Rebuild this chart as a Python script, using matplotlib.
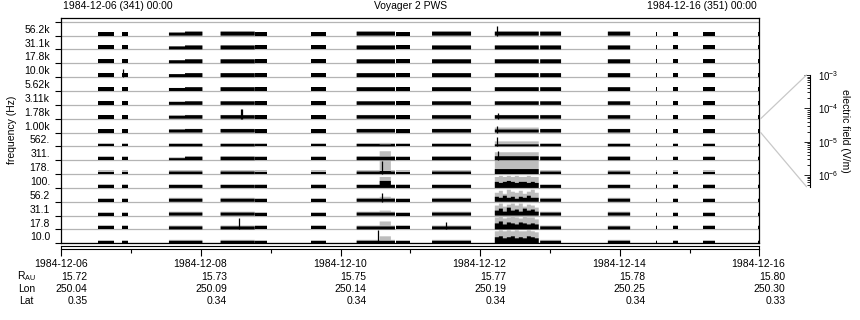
import numpy as np
import matplotlib.pyplot as plt
from matplotlib import transforms
from matplotlib.patches import ConnectionPatch
from matplotlib.ticker import LogLocator, LogFormatterSciNotation, NullFormatter

plt.rcParams['font.family'] = ['Liberation Sans', 'DejaVu Sans']
plt.rcParams['mathtext.default'] = 'regular'
plt.rcParams['font.size'] = 7.5

W, H = 860, 320

# frequency channels, top to bottom
channels = ['56.2k', '31.1k', '17.8k', '10.0k', '5.62k', '3.11k', '1.78k', '1.00k',
            '562.', '311.', '178.', '100.', '56.2', '31.1', '17.8', '10.0']
# usual levels in each channel (uV/m): black = average, gray = peak
base_black = [4.1, 4.1, 4.1, 4.1, 3.6, 3.1, 3.1, 3.1, 1.8, 3.1, 1.8, 2.4, 2.4, 2.4, 2.4, 1.8]
base_gray = [4.1, 4.1, 4.1, 4.1, 4.1, 3.6, 3.6, 3.6, 2.4, 4.1, 4.1, 3.1, 4.1, 4.1, 4.1, 3.1]

# data coverage, days after 1984-12-06 00:00
seg_t0 = [0.53, 0.86, 1.54, 2.28, 2.78, 3.57, 4.23, 4.79, 5.31, 6.21, 6.86, 7.83, 8.52, 8.77, 9.20, 9.985]
seg_t1 = [0.75, 0.96, 2.02, 2.77, 2.94, 3.79, 4.78, 4.99, 5.87, 6.84, 7.16, 8.15, 8.54, 8.83, 9.37, 10.0]

# stretches with other levels: (t0, t1, channel, black, gray) in uV/m
patches = [
    (1.54, 1.77, '56.2k', 2.4, 2.4), (1.54, 1.77, '31.1k', 2.4, 2.4),
    (1.54, 1.77, '17.8k', 2.4, 2.4), (1.54, 1.77, '10.0k', 2.4, 2.4),
    (1.54, 1.77, '5.62k', 2.4, 2.4), (1.54, 1.77, '3.11k', 2.4, 2.4),
    (1.54, 1.77, '1.78k', 2.4, 2.4), (1.54, 1.77, '1.00k', 2.4, 2.4),
    (1.54, 1.77, '311.', 1.4, 2.4),
    (4.56, 4.72, '562.', 1.4, 3.1), (4.56, 4.72, '311.', 3.1, 67),
    (4.56, 4.72, '178.', 2.4, 620), (4.56, 4.72, '100.', 22, 200),
    (4.56, 4.72, '56.2', 2.4, 7.2), (4.56, 4.72, '31.1', 2.4, 7.2),
    (4.56, 4.72, '17.8', 2.4, 38), (4.56, 4.72, '10.0', 1.8, 22),
    (6.21, 6.84, '1.00k', 2.4, 7.2), (6.21, 6.84, '562.', 1.4, 7.2),
    (6.21, 6.84, '311.', 4.1, 38), (6.21, 6.84, '178.', 7.2, 1000),
]

# low-frequency burst on 12-12, in 11 equal bins (uV/m)
burst_t0, burst_t1 = 6.21, 6.84
burst_gray = {
    '100.': [200, 360, 200, 360, 200, 360, 200, 200, 360, 200, 200],
    '56.2': [67, 200, 38, 360, 120, 67, 200, 38, 120, 360, 67],
    '31.1': [120, 360, 67, 200, 360, 120, 360, 67, 200, 120, 38],
    '17.8': [360, 620, 200, 360, 620, 360, 200, 620, 360, 360, 120],
    '10.0': [360, 620, 360, 620, 360, 620, 360, 360, 620, 360, 200],
}
burst_black = {
    '100.': [13, 7.2, 13, 22, 13, 7.2, 13, 13, 7.2, 13, 7.2],
    '56.2': [7.2, 4.1, 13, 4.1, 7.2, 2.4, 7.2, 4.1, 13, 4.1, 4.1],
    '31.1': [7.2, 22, 4.1, 38, 7.2, 13, 4.1, 22, 7.2, 13, 4.1],
    '17.8': [13, 38, 7.2, 22, 13, 7.2, 22, 13, 7.2, 13, 7.2],
    '10.0': [13, 22, 7.2, 13, 22, 7.2, 13, 7.2, 22, 13, 7.2],
}

# short spikes of the average (day, channel, uV/m)
spikes = [(0.875, '10.0k', 38), (2.575, '1.78k', 120), (2.59, '1.78k', 120),
          (2.55, '17.8', 200), (4.53, '10.0', 620), (4.59, '56.2', 67),
          (4.595, '178.', 620), (5.51, '17.8', 22), (6.24, '56.2k', 120),
          (6.24, '1.00k', 22), (6.245, '562.', 67), (6.25, '311.', 67),
          (6.25, '1.78k', 13)]

# table under the time axis
dates = ['1984-12-06', '1984-12-08', '1984-12-10', '1984-12-12', '1984-12-14', '1984-12-16']
r_au = ['15.72', '15.73', '15.75', '15.77', '15.78', '15.80']
lon = ['250.04', '250.09', '250.14', '250.19', '250.25', '250.30']
lat = ['0.35', '0.34', '0.34', '0.34', '0.34', '0.33']

lo, hi = -6.35, -3.0   # log10(V/m) range of one strip


def lev(uv):
    return np.clip((np.log10(np.asarray(uv, dtype=float) * 1e-6) - lo) / (hi - lo), 0, 1)


fig = plt.figure(figsize=(W / 100, H / 100), dpi=100)
L, R, B, T = 61.5, 759.3, 243.3, 18.3
ax = fig.add_axes([L / W, 1 - B / H, (R - L) / W, (B - T) / H])
ax.set_xlim(0, 10)
ax.set_ylim(0, 16.25)

t = np.arange(0, 10.0005, 0.001)
n = len(channels)
for k, ch in enumerate(channels):
    y0 = n - 1 - k
    blk = np.full(t.shape, np.nan)
    gry = np.full(t.shape, np.nan)
    for a, b in zip(seg_t0, seg_t1):
        m = (t >= a) & (t < b)
        blk[m] = base_black[k]
        gry[m] = base_gray[k]
    for a, b, c, vb, vg in patches:
        if c == ch:
            m = (t >= a) & (t < b)
            blk[m] = vb
            gry[m] = vg
    if ch in burst_gray:
        edges = np.linspace(burst_t0, burst_t1, len(burst_gray[ch]) + 1)
        for j in range(len(burst_gray[ch])):
            m = (t >= edges[j]) & (t < edges[j + 1])
            blk[m] = burst_black[ch][j]
            gry[m] = burst_gray[ch][j]
    ok = ~np.isnan(blk)
    ax.fill_between(t, y0, y0 + lev(np.where(ok, gry, 1)), where=ok, step='post',
                    color='#bdbdbd', lw=0, zorder=2)
    ax.fill_between(t, y0, y0 + lev(np.where(ok, blk, 1)), where=ok, step='post',
                    color='black', lw=0, zorder=3)
    for ts, c, v in spikes:
        if c == ch:
            ax.vlines(ts, y0, y0 + lev(v), color='black', lw=0.9, zorder=4)

for y in range(n + 1):
    ax.axhline(y, color='#b4b4b4', lw=0.9, zorder=1)

ax.set_yticks(range(n + 1))
ax.set_yticklabels([])
ax.set_yticks(np.arange(n) + 0.5, minor=True)
ax.set_yticklabels(channels[::-1], minor=True)
ax.tick_params(axis='y', which='major', length=4, width=0.8)
ax.tick_params(axis='y', which='minor', length=0, pad=8.3)
ax.set_xticks([])
for s in ax.spines.values():
    s.set_linewidth(0.9)
fig.text(12 / W, 1 - 130 / H, 'frequency (Hz)', rotation=90, ha='center', va='center')

# time axis strip
ax2 = fig.add_axes([L / W, 1 - 249 / H, (R - L) / W, 3.5 / H])
ax2.set_xlim(0, 10)
ax2.set_yticks([])
ax2.set_xticks(np.arange(0, 11, 2))
ax2.set_xticks(np.arange(1, 10, 2), minor=True)
ax2.set_xticklabels([])
ax2.tick_params(axis='x', which='major', length=5, width=0.8)
ax2.tick_params(axis='x', which='minor', length=3, width=0.8)
for s in ax2.spines.values():
    s.set_linewidth(0.8)

tr = transforms.offset_copy(transforms.blended_transform_factory(ax2.transData, fig.transFigure),
                            fig=fig, x=26, y=0, units='dots')
for i, x in enumerate(np.arange(0, 11, 2)):
    for row, yy in zip([dates, r_au, lon, lat], [264, 276.5, 288.5, 300.5]):
        fig.text(x, 1 - yy / H, row[i], transform=tr, ha='right', va='center')
for lab, yy in zip(['R$_{AU}$', 'Lon', 'Lat'], [276.5, 288.5, 300.5]):
    fig.text(26.5 / W, 1 - yy / H, lab, ha='center', va='center')

# header
fig.text(63 / W, 1 - 6 / H, '1984-12-06 (341) 00:00', ha='left', va='center')
fig.text((L + R) / 2 / W, 1 - 6 / H, 'Voyager 2 PWS', ha='center', va='center')
fig.text(757 / W, 1 - 6 / H, '1984-12-16 (351) 00:00', ha='right', va='center')

# field scale
cax = fig.add_axes([810 / W, 1 - 186.7 / H, 1 / W, 111.7 / H])
cax.set_yscale('log')
cax.set_ylim(10 ** lo, 10 ** hi)
cax.set_xticks([])
for side in ['top', 'bottom', 'right']:
    cax.spines[side].set_visible(False)
cax.spines['left'].set_linewidth(0.8)
cax.yaxis.set_major_locator(LogLocator(base=10))
cax.yaxis.set_major_formatter(LogFormatterSciNotation())
cax.yaxis.set_minor_locator(LogLocator(base=10, subs=np.arange(2, 10)))
cax.yaxis.set_minor_formatter(NullFormatter())
cax.tick_params(axis='y', which='both', left=True, right=False, labelleft=False,
                labelright=True, direction='out', width=0.6, labelsize=7)
cax.tick_params(axis='y', which='major', length=4, pad=1)
cax.tick_params(axis='y', which='minor', length=2.5)
fig.text(845 / W, 1 - 131 / H, 'electric field (V/m)', rotation=270, ha='center', va='center')

# band of 1.00k mapped onto the scale
k_ref = n - 1 - channels.index('1.00k')
for yd, yp in [(k_ref + 1, 75), (k_ref, 186.7)]:
    cp = ConnectionPatch(xyA=(1.002, yd), coordsA=ax.get_yaxis_transform(),
                         xyB=(806.5, H - yp), coordsB='figure pixels',
                         color='#c8c8c8', lw=0.9)
    fig.add_artist(cp)

fig.savefig('out.png', dpi=100)
